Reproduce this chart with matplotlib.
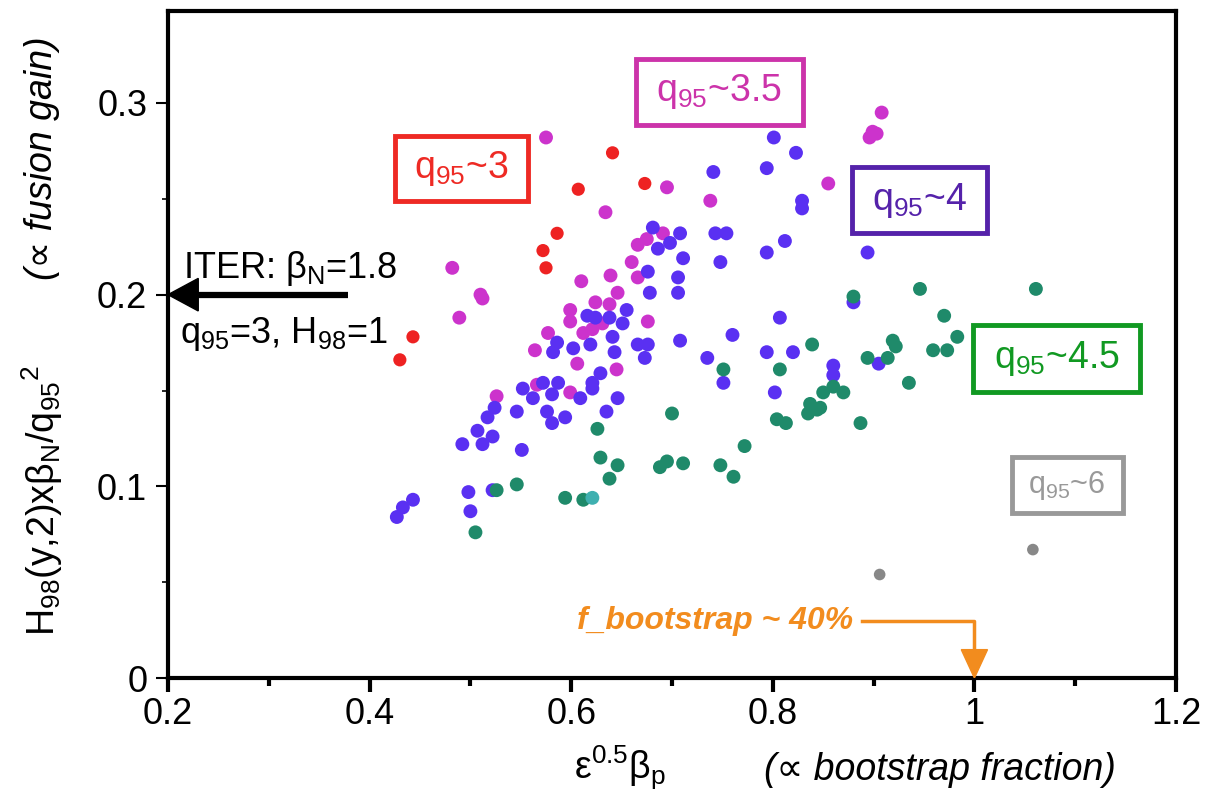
import matplotlib
matplotlib.use("Agg")
import matplotlib.pyplot as plt
from matplotlib.patches import Rectangle, Polygon

plt.rcParams['font.family'] = ['Liberation Sans', 'DejaVu Sans']
plt.rcParams['mathtext.fontset'] = 'custom'
plt.rcParams['mathtext.rm'] = 'Liberation Sans'
plt.rcParams['mathtext.it'] = 'Liberation Sans:italic'
plt.rcParams['mathtext.bf'] = 'Liberation Sans:bold'
plt.rcParams['mathtext.sf'] = 'Liberation Sans'
plt.rcParams['mathtext.default'] = 'regular'

# === data (x = eps^0.5 beta_p, y = H98 betaN / q95^2)
red_x = [0.641, 0.607, 0.673, 0.586, 0.572, 0.575, 0.443, 0.430]
red_y = [0.274, 0.255, 0.258, 0.232, 0.223, 0.214, 0.178, 0.166]

magenta_x = [0.575, 0.695, 0.738, 0.634, 0.482, 0.510, 0.512, 0.489, 0.610, 0.639,
             0.646, 0.660, 0.666, 0.675, 0.691, 0.666, 0.624, 0.638, 0.599, 0.599,
             0.676, 0.577, 0.564, 0.606, 0.612, 0.621, 0.631, 0.645, 0.526, 0.566,
             0.599, 0.908, 0.899, 0.903, 0.896, 0.855]
magenta_y = [0.282, 0.256, 0.249, 0.243, 0.214, 0.200, 0.198, 0.188, 0.207, 0.210,
             0.201, 0.217, 0.226, 0.229, 0.232, 0.209, 0.196, 0.195, 0.192, 0.186,
             0.186, 0.180, 0.171, 0.164, 0.180, 0.182, 0.185, 0.161, 0.147, 0.153,
             0.149, 0.295, 0.285, 0.284, 0.282, 0.258]

blue_x = [0.801, 0.823, 0.794, 0.741, 0.829, 0.829, 0.681, 0.708, 0.698, 0.686,
          0.743, 0.754, 0.812, 0.748, 0.794, 0.894, 0.711, 0.676, 0.706, 0.678,
          0.706, 0.655, 0.651, 0.638, 0.616, 0.624, 0.641, 0.619, 0.586, 0.582,
          0.602, 0.643, 0.666, 0.676, 0.673, 0.708, 0.735, 0.629, 0.621, 0.621,
          0.609, 0.646, 0.635, 0.594, 0.581, 0.576, 0.581, 0.572, 0.587, 0.552,
          0.562, 0.546, 0.524, 0.517, 0.507, 0.522, 0.512, 0.492, 0.551, 0.498,
          0.500, 0.522, 0.443, 0.433, 0.427, 0.760, 0.751, 0.807, 0.794, 0.820,
          0.802, 0.860, 0.860, 0.905, 0.880]
blue_y = [0.282, 0.274, 0.266, 0.264, 0.249, 0.245, 0.235, 0.232, 0.227, 0.224,
          0.232, 0.232, 0.228, 0.217, 0.222, 0.222, 0.219, 0.212, 0.209, 0.201,
          0.201, 0.192, 0.185, 0.188, 0.189, 0.188, 0.178, 0.174, 0.175, 0.170,
          0.172, 0.170, 0.174, 0.174, 0.167, 0.176, 0.167, 0.159, 0.154, 0.151,
          0.146, 0.146, 0.139, 0.136, 0.133, 0.139, 0.148, 0.154, 0.154, 0.151,
          0.146, 0.139, 0.141, 0.136, 0.129, 0.126, 0.122, 0.122, 0.119, 0.097,
          0.087, 0.098, 0.093, 0.089, 0.084, 0.179, 0.154, 0.188, 0.170, 0.170,
          0.149, 0.163, 0.158, 0.164, 0.196]

green_x = [0.880, 0.946, 1.061, 0.970, 0.983, 0.919, 0.922, 0.894, 0.914, 0.959,
           0.973, 0.935, 0.860, 0.850, 0.870, 0.847, 0.887, 0.839, 0.807, 0.837,
           0.844, 0.835, 0.804, 0.813, 0.751, 0.700, 0.772, 0.688, 0.695, 0.711,
           0.748, 0.761, 0.626, 0.629, 0.646, 0.638, 0.546, 0.526, 0.594, 0.612,
           0.505]
green_y = [0.199, 0.203, 0.203, 0.189, 0.178, 0.176, 0.173, 0.167, 0.167, 0.171,
           0.171, 0.154, 0.152, 0.149, 0.149, 0.141, 0.133, 0.174, 0.161, 0.143,
           0.140, 0.138, 0.135, 0.133, 0.161, 0.138, 0.121, 0.110, 0.113, 0.112,
           0.111, 0.105, 0.130, 0.115, 0.111, 0.104, 0.101, 0.098, 0.094, 0.093,
           0.076]

cyan_x = [0.621]
cyan_y = [0.094]

gray_x = [0.906, 1.058]
gray_y = [0.054, 0.067]

x_ticks = [0.2, 0.4, 0.6, 0.8, 1.0, 1.2]
x_tick_labels = ['0.2', '0.4', '0.6', '0.8', '1', '1.2']
y_ticks = [0.0, 0.1, 0.2, 0.3]
y_tick_labels = ['0', '0.1', '0.2', '0.3']

# q95 label boxes: (text, x0, y0, x1, y1, color, fontsize)
labels = [
    ('q$_{95}$~3', 0.425, 0.249, 0.557, 0.283, '#ee2a24', 27),
    ('q$_{95}$~3.5', 0.664, 0.2885, 0.830, 0.323, '#cc33aa', 27),
    ('q$_{95}$~4', 0.879, 0.232, 1.012, 0.2666, '#5522aa', 27),
    ('q$_{95}$~4.5', 0.999, 0.149, 1.164, 0.184, '#119922', 27),
    ('q$_{95}$~6', 1.037, 0.086, 1.147, 0.1153, '#999999', 22),
]

fig = plt.figure(figsize=(12.14, 8.02), dpi=100)
ax = fig.add_axes([0.1384, 0.1546, 0.8303, 0.8317])

ax.scatter(magenta_x, magenta_y, s=100, color='#cc33cc', edgecolors='none', zorder=3)
ax.scatter(blue_x, blue_y, s=100, color='#5a30f2', edgecolors='none', zorder=3)
ax.scatter(green_x, green_y, s=100, color='#1f8a6a', edgecolors='none', zorder=3)
ax.scatter(red_x, red_y, s=90, color='#ee2222', edgecolors='none', zorder=3)
ax.scatter(cyan_x, cyan_y, s=100, color='#3fb0b0', edgecolors='none', zorder=3)
ax.scatter(gray_x, gray_y, s=70, color='#888888', edgecolors='none', zorder=3)

ax.set_xlim(0.2, 1.2)
ax.set_ylim(0, 0.348)

ax.set_xticks(x_ticks)
ax.set_xticklabels(x_tick_labels)
ax.set_xticks([0.3, 0.5, 0.7, 0.9, 1.1], minor=True)
ax.set_yticks(y_ticks)
ax.set_yticklabels(y_tick_labels)
ax.set_yticks([0.05, 0.15, 0.25], minor=True)

ax.tick_params(axis='x', which='major', direction='out', length=10, width=3,
               labelsize=26, pad=4)
ax.tick_params(axis='x', which='minor', direction='out', length=6, width=3)
ax.tick_params(axis='y', which='major', direction='out', length=9, width=1.5,
               labelsize=26, pad=6)
ax.tick_params(axis='y', which='minor', direction='out', length=4, width=1.2)
for sp in ax.spines.values():
    sp.set_linewidth(3)

# q95 boxes
for txt, x0, y0, x1, y1, col, fs in labels:
    ax.add_patch(Rectangle((x0, y0), x1 - x0, y1 - y0, fill=False, ec=col,
                           lw=3.5, zorder=4, clip_on=False))
    ax.text((x0 + x1) / 2, (y0 + y1) / 2, txt, color=col, fontsize=fs,
            ha='center', va='center', zorder=5)

# ITER arrow
ax.plot([0.225, 0.379], [0.2, 0.2], color='black', lw=4.5, solid_capstyle='butt', zorder=4)
ax.add_patch(Polygon([[0.2, 0.2], [0.23, 0.2085], [0.23, 0.1915]], closed=True,
                     color='black', zorder=4, clip_on=False))
ax.text(0.215, 0.2087, 'ITER: β$_N$=1.8', fontsize=26, ha='left', va='baseline')
ax.text(0.212, 0.1748, 'q$_{95}$=3, H$_{98}$=1', fontsize=26, ha='left', va='baseline')

# bootstrap annotation
orange = '#f28c1e'
ax.plot([0.888, 1.0, 1.0], [0.0297, 0.0297, 0.014], color=orange, lw=2.5, zorder=4)
ax.add_patch(Polygon([[0.987, 0.0148], [1.013, 0.0148], [1.0, 0.0]], closed=True,
                     color=orange, zorder=4))
ax.text(0.880, 0.0297, 'f_bootstrap ~ 40%', color=orange, fontsize=23,
        fontweight='bold', style='italic', ha='right', va='center')

# axis labels
fig.text(0.035, 1 - 500 / 802, 'H$_{98}$(y,2)xβ$_N$/q$_{95}$$^2$', rotation=90,
         fontsize=27, ha='center', va='center')
fig.text(0.035, 1 - 158 / 802, '(∝ fusion gain)', rotation=90, style='italic',
         fontsize=27, ha='center', va='center')
fig.text(620 / 1214, 1 - 768 / 802, 'ε$^{0.5}$β$_p$', fontsize=27,
         ha='center', va='center')
fig.text(940 / 1214, 1 - 770 / 802, '(∝ bootstrap fraction)', style='italic',
         fontsize=27, ha='center', va='center')

fig.savefig('out.png', dpi=100)
